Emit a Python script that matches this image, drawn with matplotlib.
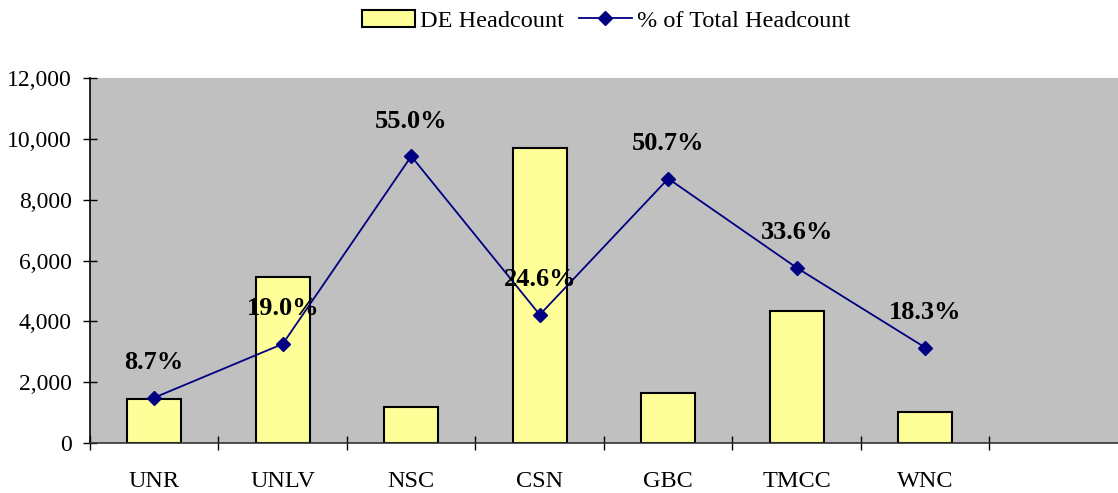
import matplotlib.pyplot as plt
import numpy as np
from matplotlib.ticker import FuncFormatter

plt.rcParams['font.family'] = ['Liberation Serif', 'DejaVu Serif']

schools = ["UNR", "UNLV", "NSC", "CSN", "GBC", "TMCC", "WNC"]
de_headcount = [1450, 5450, 1200, 9700, 1650, 4330, 1020]
pct_total = [8.7, 19.0, 55.0, 24.6, 50.7, 33.6, 18.3]

fig = plt.figure(figsize=(11.18, 4.93), dpi=100)
ax = fig.add_axes([0.0805, 0.1014, 0.9195, 0.7404])
ax.set_facecolor("#C0C0C0")

x = np.arange(len(schools))
bars = ax.bar(x, de_headcount, width=0.42, color="#FFFF99", edgecolor="black",
              linewidth=1.5, label="DE Headcount", zorder=2)

ax.set_xlim(-0.5, 7.5)
ax.set_ylim(0, 12000)
ax.set_yticks(range(0, 12001, 2000))
ax.yaxis.set_major_formatter(FuncFormatter(lambda v, p: f"{int(v):,}"))
ax.tick_params(axis="y", direction="inout", length=10, width=1, labelsize=17, pad=8)

# category labels at centres, tick marks at slot boundaries
ax.set_xticks(x)
ax.set_xticklabels(schools)
ax.set_xticks(np.arange(-0.5, 7.5, 1.0), minor=True)
ax.tick_params(axis="x", which="major", length=0, labelsize=17.5, pad=20)
ax.tick_params(axis="x", which="minor", direction="inout", length=10, width=1)

for s in ["top", "right"]:
    ax.spines[s].set_visible(False)
ax.spines["left"].set_linewidth(1.2)
ax.spines["bottom"].set_linewidth(1.2)
ax.spines["bottom"].set_color("#333333")

# percent line on a hidden second axis
ax2 = ax.twinx()
ax2.set_ylim(0, 70)
line, = ax2.plot(x, pct_total, color="#000080", marker="D", markersize=7,
                 linewidth=1.3, label="% of Total Headcount", zorder=3)
ax2.axis("off")

for xi, p in zip(x, pct_total):
    ax2.annotate(f"{p:.1f}%", (xi, p), xytext=(0, 17), textcoords="offset points",
                 ha="center", va="bottom", fontsize=19, fontweight="bold")

fig.legend(handles=[bars, line], loc="upper center", bbox_to_anchor=(0.542, 1.025),
           ncol=2, frameon=False, fontsize=17.5, handlelength=2.2,
           columnspacing=0.6, handletextpad=0.2)

fig.savefig("out.png", dpi=100)
